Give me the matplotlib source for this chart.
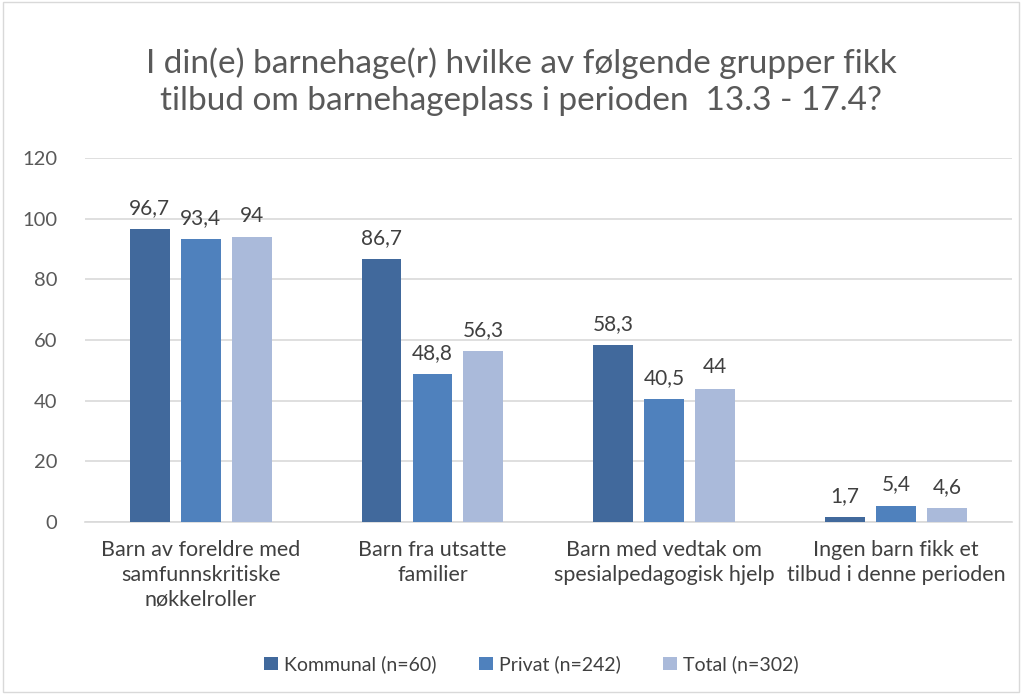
import matplotlib
matplotlib.use("Agg")
import matplotlib.pyplot as plt
import numpy as np

# Data
categories = [
    "Barn av foreldre med\nsamfunnskritiske\nnøkkelroller",
    "Barn fra utsatte\nfamilier",
    "Barn med vedtak om\nspesialpedagogisk hjelp",
    "Ingen barn fikk et\ntilbud i denne perioden",
]
series_names = ["Kommunal (n=60)", "Privat (n=242)", "Total (n=302)"]
kommunal = [96.7, 86.7, 58.3, 1.7]
privat = [93.4, 48.8, 40.5, 5.4]
total = [94, 56.3, 44, 4.6]
colors = ["#41699C", "#4F81BD", "#AABADA"]

plt.rcParams['font.family'] = ['Lato', 'DejaVu Sans']
text_color = "#595959"

fig = plt.figure(figsize=(10.22, 6.94), dpi=100)
ax = fig.add_axes([0.083, 0.248, 0.907, 0.524])

x = np.arange(len(categories))
width = 0.172
step = 0.22

for i, (vals, name) in enumerate(zip([kommunal, privat, total], series_names)):
    pos = x + (i - 1) * step
    bars = ax.bar(pos, vals, width, color=colors[i], label=name, zorder=3)
    for b, v in zip(bars, vals):
        lbl = f"{v:g}".replace(".", ",")
        ax.annotate(lbl, (b.get_x() + b.get_width() / 2, v), xytext=(0, 8),
                    textcoords="offset points", ha="center", va="bottom",
                    fontsize=15, color="#404040")

ax.set_xlim(-0.5, len(categories) - 0.5)
ax.set_ylim(0, 120)
ax.set_yticks(range(0, 121, 20))
ax.yaxis.grid(True, color="#D9D9D9", linewidth=1.2, zorder=0)
ax.tick_params(axis="y", length=0, labelsize=14.5, labelcolor=text_color, pad=20)
ax.tick_params(axis="x", length=0, labelsize=15.5, labelcolor="#404040", pad=13)
ax.set_xticks(x)
ax.set_xticklabels(categories, linespacing=1.3)
for s in ["top", "right", "left"]:
    ax.spines[s].set_visible(False)
ax.spines["bottom"].set_color("#D9D9D9")
ax.spines["bottom"].set_linewidth(1.2)

fig.text(0.51, 0.882, "I din(e) barnehage(r) hvilke av følgende grupper fikk\ntilbud om barnehageplass i perioden  13.3 - 17.4?",
         ha="center", va="center", fontsize=24, color=text_color, linespacing=1.3)

handles, labels = ax.get_legend_handles_labels()
fig.legend(handles, labels, loc="center", bbox_to_anchor=(0.52, 0.043), ncol=3,
           frameon=False, fontsize=14, labelcolor="#404040",
           handlelength=0.7, handleheight=0.7, handletextpad=0.3, columnspacing=2.2)

# light border around the chart area
fig.patches.append(plt.Rectangle((0.003, 0.003), 0.994, 0.994, transform=fig.transFigure,
                                 fill=False, edgecolor="#D9D9D9", linewidth=1))

fig.savefig("out.png", dpi=100)
